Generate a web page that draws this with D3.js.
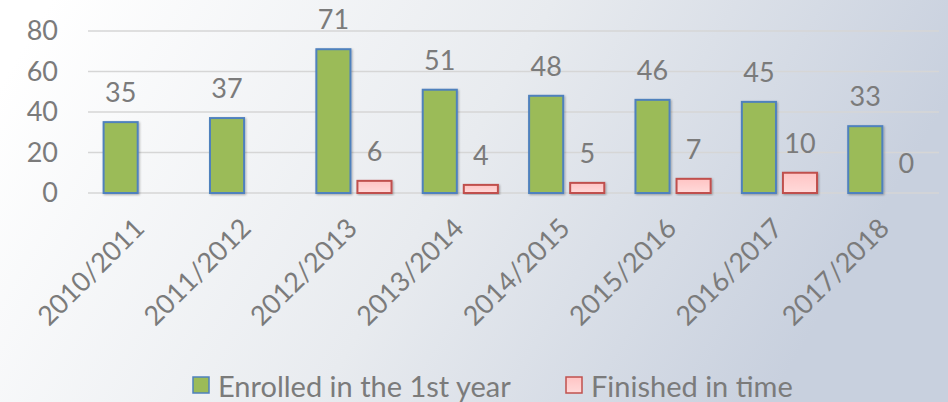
<!DOCTYPE html>
<html>
<head>
<meta charset="utf-8">
<script src="https://cdn.jsdelivr.net/npm/d3@7"></script>
<style>
  body { margin: 0; }
  svg { display: block; font-family: Lato, "Open Sans", sans-serif; }
</style>
</head>
<body>
<svg width="948" height="402"></svg>
<script>
const years = ['2010/2011', '2011/2012', '2012/2013', '2013/2014', '2014/2015', '2015/2016', '2016/2017', '2017/2018'];
const enrolled = [35, 37, 71, 51, 48, 46, 45, 33];
const finished = [null, null, 6, 4, 5, 7, 10, 0];
const seriesNames = ['Enrolled in the 1st year', 'Finished in time'];
const yTicks = [0, 20, 40, 60, 80];

const svg = d3.select('svg');
const width = +svg.attr('width');
const height = +svg.attr('height');
const textColor = '#7b7b7b';
const fontSize = '27px';

// background
const defs = svg.append('defs');
const bg = defs.append('linearGradient')
    .attr('id', 'bg')
    .attr('x1', 0).attr('y1', 0)
    .attr('x2', 1).attr('y2', 0.25);
bg.append('stop').attr('offset', '0.05').attr('stop-color', '#ffffff');
bg.append('stop').attr('offset', '0.55').attr('stop-color', '#e8ebef');
bg.append('stop').attr('offset', '1').attr('stop-color', '#c8d0de');

const pink = defs.append('linearGradient')
    .attr('id', 'pink')
    .attr('x1', 0).attr('y1', 0)
    .attr('x2', 0).attr('y2', 1);
pink.append('stop').attr('offset', '0').attr('stop-color', '#ffc4c4');
pink.append('stop').attr('offset', '1').attr('stop-color', '#ffdada');

const shadow = defs.append('filter').attr('id', 'shadow')
    .attr('x', '-20%').attr('y', '-20%').attr('width', '140%').attr('height', '140%');
shadow.append('feDropShadow')
    .attr('dx', 1).attr('dy', 1).attr('stdDeviation', 1.2)
    .attr('flood-color', '#000').attr('flood-opacity', 0.3);

svg.append('rect')
    .attr('width', width)
    .attr('height', height)
    .attr('fill', 'url(#bg)');

// scales
const x = d3.scaleBand()
    .domain(years)
    .range([88, 939]);

const xSeries = d3.scaleBand()
    .domain(seriesNames)
    .range([0, x.bandwidth()])
    .paddingInner(0.17)
    .paddingOuter(0.38);

const y = d3.scaleLinear()
    .domain([0, 80])
    .range([193, 31]);

// grid
svg.append('g')
  .selectAll('line')
  .data(yTicks)
  .join('line')
    .attr('x1', 88)
    .attr('x2', 939)
    .attr('y1', d => y(d))
    .attr('y2', d => y(d))
    .attr('stroke', '#d6d6d6')
    .attr('stroke-width', 1.5);

// y axis labels
const yAxis = svg.append('g')
    .attr('transform', 'translate(58,0)')
    .call(d3.axisLeft(y).tickValues(yTicks).tickSize(0).tickPadding(0));
yAxis.select('.domain').remove();
yAxis.selectAll('text')
    .attr('fill', textColor)
    .style('font-size', fontSize)
    .style('font-family', 'Lato, sans-serif');

// x axis labels
const xAxis = svg.append('g')
    .attr('transform', 'translate(0,193)')
    .call(d3.axisBottom(x).tickSize(0).tickPadding(0));
xAxis.select('.domain').remove();
xAxis.selectAll('text')
    .attr('fill', textColor)
    .style('font-size', fontSize)
    .style('font-family', 'Lato, sans-serif')
    .attr('text-anchor', 'end')
    .attr('dy', 0)
    .attr('y', 0)
    .attr('transform', 'translate(5,37) rotate(-45)');

// bars
const groups = svg.append('g')
  .selectAll('g')
  .data(years)
  .join('g')
    .attr('transform', d => `translate(${x(d)},0)`);

groups.append('rect')
    .attr('x', xSeries(seriesNames[0]))
    .attr('y', (d, i) => y(enrolled[i]))
    .attr('width', xSeries.bandwidth())
    .attr('height', (d, i) => y(0) - y(enrolled[i]))
    .attr('fill', '#9bbb59')
    .attr('stroke', '#4f81bd')
    .attr('stroke-width', 2)
    .attr('filter', 'url(#shadow)');

groups.filter((d, i) => finished[i] > 0)
  .append('rect')
    .attr('x', xSeries(seriesNames[1]))
    .attr('y', d => y(finished[years.indexOf(d)]))
    .attr('width', xSeries.bandwidth())
    .attr('height', d => y(0) - y(finished[years.indexOf(d)]))
    .attr('fill', 'url(#pink)')
    .attr('stroke', '#c0504d')
    .attr('stroke-width', 2)
    .attr('filter', 'url(#shadow)');

// value labels
groups.append('text')
    .attr('x', xSeries(seriesNames[0]) + xSeries.bandwidth() / 2)
    .attr('y', (d, i) => y(enrolled[i]) - 20)
    .attr('text-anchor', 'middle')
    .attr('fill', textColor)
    .style('font-size', fontSize)
    .text((d, i) => enrolled[i]);

groups.filter((d, i) => finished[i] !== null)
  .append('text')
    .attr('x', xSeries(seriesNames[1]) + xSeries.bandwidth() / 2)
    .attr('y', d => y(finished[years.indexOf(d)]) - 20)
    .attr('text-anchor', 'middle')
    .attr('fill', textColor)
    .style('font-size', fontSize)
    .text(d => finished[years.indexOf(d)]);

// legend
const legendItems = [
  { name: seriesNames[0], fill: '#9bbb59', stroke: '#4f81bd', x: 193 },
  { name: seriesNames[1], fill: 'url(#pink)', stroke: '#c0504d', x: 566 }
];
const legend = svg.append('g')
  .selectAll('g')
  .data(legendItems)
  .join('g')
    .attr('transform', d => `translate(${d.x},377)`);
legend.append('rect')
    .attr('width', 16)
    .attr('height', 16)
    .attr('fill', d => d.fill)
    .attr('stroke', d => d.stroke)
    .attr('stroke-width', 1.5);
legend.append('text')
    .attr('x', 25)
    .attr('y', 20)
    .attr('fill', textColor)
    .style('font-size', '29px')
    .text(d => d.name);
</script>
</body>
</html>
